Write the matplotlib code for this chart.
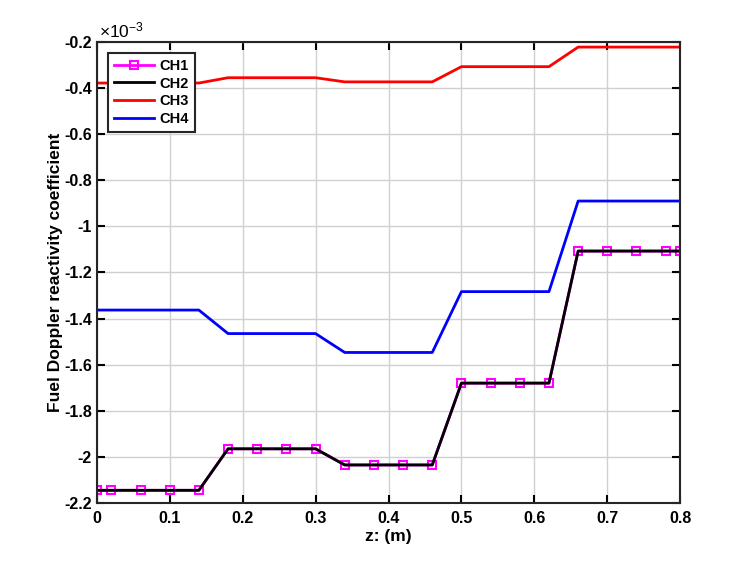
import matplotlib
matplotlib.use('Agg')
import matplotlib.pyplot as plt
from matplotlib.ticker import FixedLocator

z = [0, 0.02, 0.06, 0.10, 0.14, 0.18, 0.22, 0.26, 0.30, 0.34, 0.38,
     0.42, 0.46, 0.50, 0.54, 0.58, 0.62, 0.66, 0.70, 0.74, 0.78, 0.80]

ch12 = [-2.145] * 5 + [-1.965] * 4 + [-2.035] * 4 + [-1.680] * 4 + [-1.107] * 5
ch3 = [-0.378] * 5 + [-0.355] * 4 + [-0.373] * 4 + [-0.307] * 4 + [-0.222] * 5
ch4 = [-1.363] * 5 + [-1.465] * 4 + [-1.547] * 4 + [-1.283] * 4 + [-0.890] * 5

scale = 1e-3

plt.rcParams['font.family'] = ['Liberation Sans', 'DejaVu Sans']
plt.rcParams['font.weight'] = 'bold'
plt.rcParams['mathtext.default'] = 'regular'

fig = plt.figure(figsize=(7.5, 5.63), dpi=100)
ax = fig.add_axes([0.129, 0.1066, 0.778, 0.8188])

y12 = [v * scale for v in ch12]
ax.plot(z, y12, color='magenta', marker='s', markersize=6, markerfacecolor='none',
        markeredgewidth=1.5, linewidth=2, label='CH1')
ax.plot(z, y12, color='black', linewidth=2, label='CH2')
ax.plot(z, [v * scale for v in ch3], color='red', linewidth=2, label='CH3')
ax.plot(z, [v * scale for v in ch4], color='blue', linewidth=2, label='CH4')

ax.set_xlim(0, 0.8)
ax.set_ylim(-2.2e-3, -0.2e-3)
xt = [0, 0.1, 0.2, 0.3, 0.4, 0.5, 0.6, 0.7, 0.8]
yt = [-2.2, -2, -1.8, -1.6, -1.4, -1.2, -1, -0.8, -0.6, -0.4, -0.2]
ax.xaxis.set_major_locator(FixedLocator(xt))
ax.yaxis.set_major_locator(FixedLocator([v * scale for v in yt]))
ax.set_xticklabels(['0', '0.1', '0.2', '0.3', '0.4', '0.5', '0.6', '0.7', '0.8'])
ax.set_yticklabels(['%g' % v for v in yt])
ax.tick_params(direction='in', top=True, right=True, labelsize=11.5, width=1.5, length=6)
ax.tick_params(axis='x', pad=6)
for s in ax.spines.values():
    s.set_linewidth(1.5)
    s.set_color('#262626')
ax.grid(True, color='#d0d0d0', linewidth=1)
ax.set_axisbelow(True)

ax.text(0.004, 1.004, r'×10$^{-3}$', transform=ax.transAxes, fontsize=12.5,
        fontweight='normal', ha='left', va='bottom')

ax.set_xlabel('z: (m)', fontsize=12.5, fontweight='bold', labelpad=2)
ax.set_ylabel('Fuel Doppler reactivity coefficient', fontsize=12.5, fontweight='bold',
              labelpad=1)

leg = ax.legend(loc='upper left', bbox_to_anchor=(0.02, 0.976), fontsize=10.5,
                fancybox=False, edgecolor='#262626', framealpha=1,
                handlelength=2.7, borderpad=0.4, labelspacing=0.25, handletextpad=0.4,
                borderaxespad=0)
leg.get_frame().set_linewidth(1.5)

plt.savefig('out.png', dpi=100)
